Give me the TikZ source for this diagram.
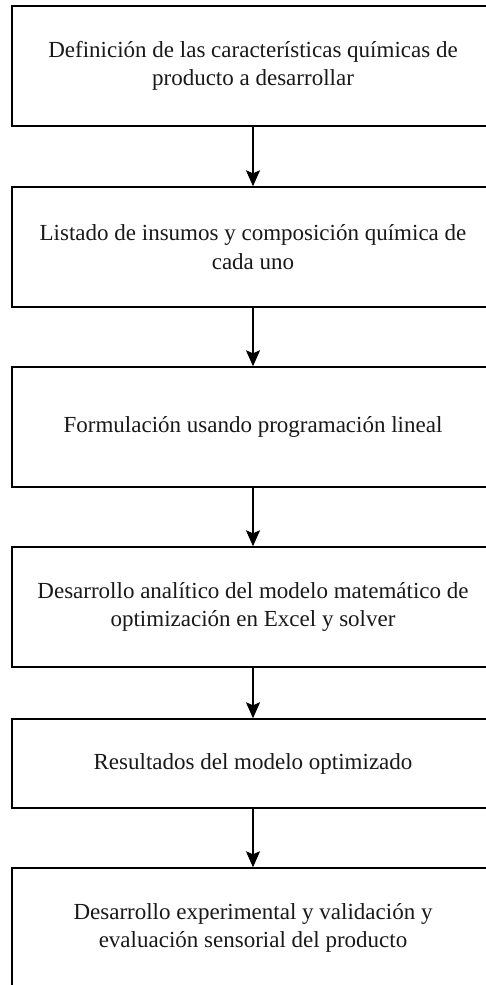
\documentclass[tikz,border=0pt]{standalone}
\usepackage{fontspec}
\setmainfont{Liberation Serif}
\usetikzlibrary{arrows.meta}
\tikzset{
  stepbox/.style={draw=black, line width=1.4pt, rectangle, minimum width=482pt, inner sep=0pt, align=center, font=\fontsize{23}{28.5}\selectfont, text=black!90},
  arr/.style={draw=black, line width=1.3pt, -{Stealth[length=16pt, width=14pt, inset=3pt]}}
}
\begin{document}
\begin{tikzpicture}[x=1pt, y=1pt]
\useasboundingbox (0,0) rectangle (486,-985);
\clip (0,0) rectangle (486,-985);
\fill[white] (0,0) rectangle (486,-985);
\node[stepbox, minimum height=120pt] (b1) at (253,-66) {Definición de las características químicas de\\producto a desarrollar};
\node[stepbox, minimum height=120pt] (b2) at (253,-247) {Listado de insumos y composición química de\\cada uno};
\node[stepbox, minimum height=120pt] (b3) at (253,-427) {Formulación usando programación lineal};
\node[stepbox, minimum height=89pt] (b5) at (253,-763.5) {Resultados del modelo optimizado};
\node[stepbox, minimum height=120pt] (b4) at (253,-607) {Desarrollo analítico del modelo matemático de\\optimización en Excel y solver};
\node[stepbox, minimum height=120pt] (b6) at (253,-928) {Desarrollo experimental y validación y\\evaluación sensorial del producto};
\draw[arr] (b1.south) -- (b2.north);
\draw[arr] (b2.south) -- (b3.north);
\draw[arr] (b3.south) -- (b4.north);
\draw[arr] (b4.south) -- (b5.north);
\draw[arr] (b5.south) -- (b6.north);
\end{tikzpicture}
\end{document}
